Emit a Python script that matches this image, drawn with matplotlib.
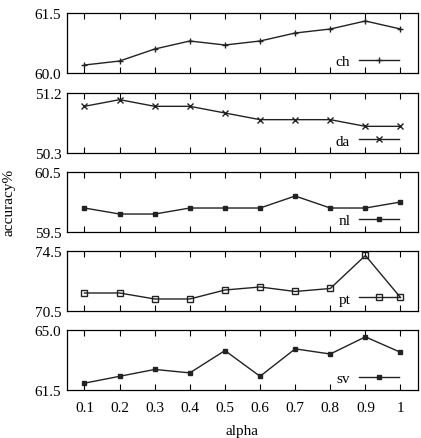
import matplotlib
matplotlib.use('Agg')
import matplotlib.pyplot as plt

plt.rcParams['font.family'] = ['Liberation Serif', 'DejaVu Serif']

alpha = [0.1, 0.2, 0.3, 0.4, 0.5, 0.6, 0.7, 0.8, 0.9, 1.0]
tick_labels = ['0.1', '0.2', '0.3', '0.4', '0.5', '0.6', '0.7', '0.8', '0.9', '1']

ch = [60.2, 60.3, 60.6, 60.8, 60.7, 60.8, 61.0, 61.1, 61.3, 61.1]
da = [51.0, 51.1, 51.0, 51.0, 50.9, 50.8, 50.8, 50.8, 50.7, 50.7]
nl = [59.9, 59.8, 59.8, 59.9, 59.9, 59.9, 60.1, 59.9, 59.9, 60.0]
pt = [71.7, 71.7, 71.3, 71.3, 71.9, 72.1, 71.8, 72.0, 74.2, 71.4]
sv = [61.9, 62.3, 62.7, 62.5, 63.8, 62.3, 63.9, 63.6, 64.6, 63.7]

names = ['ch', 'da', 'nl', 'pt', 'sv']
series = [ch, da, nl, pt, sv]
ylims = [(60.0, 61.5), (50.3, 51.2), (59.5, 60.5), (70.5, 74.5), (61.5, 65.0)]
ylabels = [('60.0', '61.5'), ('50.3', '51.2'), ('59.5', '60.5'), ('70.5', '74.5'), ('61.5', '65.0')]

# gnuplot style point types
markers = [dict(marker='+', ms=5, mew=1.0),
           dict(marker='x', ms=4, mew=1.0),
           dict(marker='s', ms=3, mew=1.0),
           dict(marker='s', ms=4, mfc='none', mew=1.0),
           dict(marker='s', ms=3.5, mew=1.0)]

fig = plt.figure(figsize=(4.21, 4.39), dpi=100)
bottoms = [0.8314, 0.6492, 0.4692, 0.2893, 0.1093]
line_color = '#222222'

for i in range(5):
    ax = fig.add_axes([0.159, bottoms[i], 0.834, 0.1367])
    ax.plot(alpha, series[i], color=line_color, lw=1.0, label=names[i], **markers[i])
    ax.set_xlim(0.05, 1.05)
    ax.set_ylim(*ylims[i])
    ax.set_yticks(list(ylims[i]))
    ax.set_yticklabels(ylabels[i])
    ax.set_xticks(alpha)
    ax.tick_params(axis='x', direction='in', top=True, bottom=True, length=4, width=0.8)
    ax.tick_params(axis='y', direction='in', length=0, labelsize=11, pad=4)
    if i == 4:
        ax.set_xticklabels(tick_labels)
        ax.tick_params(axis='x', labelsize=11, pad=8)
        ax.set_xlabel('alpha', fontsize=11, labelpad=7)
    else:
        ax.set_xticklabels([])
    for s in ax.spines.values():
        s.set_linewidth(0.9)
    ax.legend(loc='center right', frameon=False, fontsize=11, handlelength=2.6,
              handletextpad=0.6, markerfirst=False, borderaxespad=0, borderpad=0,
              bbox_to_anchor=(0.946, 0.2))

fig.text(0.021, 0.54, 'accuracy%', rotation=90, fontsize=11, ha='center', va='center')

plt.savefig('out.png', dpi=100)
plt.close()
